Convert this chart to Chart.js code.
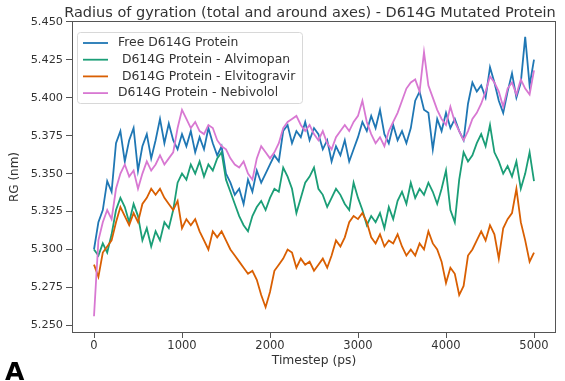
<!DOCTYPE html>
<html>
<head>
<meta charset="utf-8">
<script src="https://cdn.jsdelivr.net/npm/chart.js@4/dist/chart.umd.min.js"></script>
<style>
  html, body { margin: 0; padding: 0; background: #fff; }
  #wrap { width: 565px; height: 381px; position: relative; }
</style>
</head>
<body>
<div id="wrap"><canvas id="rgChart" width="565" height="381"></canvas></div>
<script>
// Timestep (ps), one reading every 50 ps
const timesteps = [];
for (let t = 0; t <= 5000; t += 50) timesteps.push(t);

const seriesLabels = [
    'Free D614G Protein',
    ' D614G Protein - Alvimopan',
    ' D614G Protein - Elvitogravir',
    'D614G Protein - Nebivolol'
];
const seriesColors = ['#1f77b4', '#1b9e77', '#d95f02', '#d878d2'];

// RG (nm) values
const freeProtein = [
    5.300, 5.318, 5.326, 5.345, 5.338, 5.370, 5.378, 5.358, 5.372, 5.380,
    5.352, 5.368, 5.376, 5.360, 5.372, 5.386, 5.370, 5.383, 5.372, 5.366,
    5.376, 5.368, 5.378, 5.364, 5.374, 5.366, 5.380, 5.370, 5.362, 5.368,
    5.350, 5.344, 5.336, 5.340, 5.330, 5.346, 5.338, 5.352, 5.344, 5.350,
    5.356, 5.362, 5.358, 5.378, 5.382, 5.370, 5.378, 5.374, 5.384, 5.372,
    5.380, 5.376, 5.366, 5.372, 5.358, 5.368, 5.362, 5.372, 5.358, 5.366,
    5.374, 5.384, 5.378, 5.388, 5.380, 5.392, 5.376, 5.370, 5.382, 5.372,
    5.378, 5.370, 5.380, 5.398, 5.404, 5.392, 5.390, 5.366, 5.386, 5.378,
    5.390, 5.380, 5.386, 5.378, 5.372, 5.396, 5.410, 5.404, 5.408, 5.400,
    5.420, 5.410, 5.398, 5.390, 5.404, 5.416, 5.400, 5.410, 5.440, 5.408,
    5.425
];
const alvimopan = [
    5.300, 5.296, 5.304, 5.298, 5.310, 5.326, 5.334, 5.328, 5.318, 5.330,
    5.322, 5.306, 5.314, 5.302, 5.312, 5.306, 5.318, 5.314, 5.326, 5.344,
    5.350, 5.346, 5.356, 5.350, 5.358, 5.348, 5.356, 5.352, 5.360, 5.364,
    5.346, 5.338, 5.330, 5.322, 5.316, 5.312, 5.322, 5.328, 5.332, 5.326,
    5.334, 5.340, 5.338, 5.354, 5.348, 5.340, 5.324, 5.334, 5.344, 5.348,
    5.354, 5.340, 5.336, 5.328, 5.334, 5.340, 5.336, 5.330, 5.326, 5.344,
    5.334, 5.326, 5.316, 5.322, 5.318, 5.324, 5.314, 5.328, 5.320, 5.332,
    5.338, 5.330, 5.344, 5.334, 5.340, 5.336, 5.344, 5.338, 5.330, 5.340,
    5.352, 5.326, 5.318, 5.346, 5.364, 5.358, 5.362, 5.370, 5.376, 5.368,
    5.382, 5.364, 5.358, 5.350, 5.355, 5.348, 5.358, 5.340, 5.350, 5.364,
    5.345
];
const elvitogravir = [
    5.290, 5.282, 5.298, 5.302, 5.306, 5.318, 5.328, 5.322, 5.316, 5.324,
    5.318, 5.330, 5.334, 5.340, 5.336, 5.340, 5.334, 5.330, 5.326, 5.332,
    5.314, 5.320, 5.316, 5.320, 5.312, 5.306, 5.300, 5.312, 5.308, 5.312,
    5.306, 5.300, 5.296, 5.292, 5.288, 5.284, 5.286, 5.280, 5.270, 5.262,
    5.272, 5.286, 5.290, 5.294, 5.300, 5.298, 5.288, 5.294, 5.290, 5.292,
    5.286, 5.290, 5.294, 5.288, 5.296, 5.306, 5.302, 5.308, 5.318, 5.322,
    5.320, 5.324, 5.318, 5.308, 5.304, 5.310, 5.302, 5.306, 5.304, 5.310,
    5.302, 5.296, 5.300, 5.296, 5.304, 5.300, 5.312, 5.304, 5.300, 5.292,
    5.278, 5.288, 5.284, 5.270, 5.276, 5.296, 5.300, 5.306, 5.312, 5.306,
    5.316, 5.310, 5.294, 5.314, 5.320, 5.324, 5.340, 5.318, 5.306, 5.292,
    5.298
];
const nebivolol = [
    5.256, 5.306, 5.318, 5.326, 5.320, 5.340, 5.350, 5.356, 5.348, 5.352,
    5.340, 5.350, 5.358, 5.352, 5.356, 5.362, 5.356, 5.360, 5.364, 5.380,
    5.392, 5.386, 5.380, 5.384, 5.378, 5.376, 5.382, 5.380, 5.372, 5.368,
    5.366, 5.360, 5.356, 5.354, 5.358, 5.350, 5.346, 5.360, 5.368, 5.364,
    5.360, 5.364, 5.370, 5.380, 5.384, 5.386, 5.388, 5.382, 5.378, 5.382,
    5.376, 5.372, 5.378, 5.370, 5.366, 5.374, 5.378, 5.382, 5.378, 5.384,
    5.388, 5.398, 5.384, 5.376, 5.370, 5.374, 5.368, 5.378, 5.384, 5.390,
    5.398, 5.406, 5.410, 5.412, 5.404, 5.430, 5.408, 5.400, 5.392, 5.386,
    5.382, 5.394, 5.384, 5.378, 5.372, 5.378, 5.386, 5.390, 5.396, 5.404,
    5.414, 5.410, 5.404, 5.394, 5.406, 5.410, 5.402, 5.412, 5.406, 5.402,
    5.418
];

const xTicks = [0, 1000, 2000, 3000, 4000, 5000];
const yTicks = [5.250, 5.275, 5.300, 5.325, 5.350, 5.375, 5.400, 5.425, 5.450];

const FONT = 'DejaVu Sans';
const TEXT = '#333';

function toPoints(values) {
    return values.map((v, i) => ({ x: timesteps[i], y: v }));
}

// Title, axes frame, legend box and panel letter
const decorations = {
    id: 'decorations',
    afterDraw(chart) {
        const ctx = chart.ctx;
        const a = chart.chartArea;
        ctx.save();

        // axes frame
        ctx.strokeStyle = '#555';
        ctx.lineWidth = 1;
        ctx.strokeRect(a.left + 0.5, a.top + 0.5, a.right - a.left - 1, a.bottom - a.top - 1);

        // title
        ctx.fillStyle = TEXT;
        ctx.font = '14.5px "' + FONT + '"';
        ctx.textAlign = 'center';
        ctx.textBaseline = 'alphabetic';
        ctx.fillText('Radius of gyration (total and around axes) - D614G Mutated Protein', 310, 17);

        // legend
        const lx = 77, ly = 32, lw = 225, lh = 71;
        ctx.fillStyle = 'rgba(255,255,255,0.8)';
        ctx.strokeStyle = '#d8d8d8';
        ctx.beginPath();
        ctx.roundRect(lx + 0.5, ly + 0.5, lw, lh, 3);
        ctx.fill();
        ctx.stroke();
        ctx.font = '12.4px "' + FONT + '"';
        ctx.textAlign = 'left';
        ctx.textBaseline = 'middle';
        seriesLabels.forEach((label, i) => {
            const y = 43 + i * 16.7;
            ctx.strokeStyle = seriesColors[i];
            ctx.lineWidth = 1.8;
            ctx.beginPath();
            ctx.moveTo(83, y);
            ctx.lineTo(108, y);
            ctx.stroke();
            ctx.fillStyle = TEXT;
            ctx.fillText(label, 118, y);
        });

        // panel letter
        ctx.fillStyle = '#000';
        ctx.font = 'bold 25px "' + FONT + '"';
        ctx.textAlign = 'left';
        ctx.textBaseline = 'alphabetic';
        ctx.fillText('A', 5, 380);
        ctx.restore();
    }
};

const ctx = document.getElementById('rgChart');
const datasets = [freeProtein, alvimopan, elvitogravir, nebivolol].map((vals, i) => ({
    label: seriesLabels[i],
    data: toPoints(vals),
    borderColor: seriesColors[i],
    backgroundColor: seriesColors[i],
    borderWidth: 1.8,
    pointRadius: 0,
    tension: 0,
    fill: false,
    order: 3 - i
}));

new Chart(ctx, {
    type: 'line',
    data: { datasets },
    options: {
        responsive: false,
        animation: false,
        layout: { padding: { left: 0, right: 9, top: 21, bottom: 0 } },
        plugins: {
            legend: { display: false },
            title: { display: false },
            tooltip: { enabled: false }
        },
        scales: {
            x: {
                type: 'linear',
                min: -250,
                max: 5250,
                afterBuildTicks: s => { s.ticks = xTicks.map(v => ({ value: v })); },
                afterFit: s => { s.height = 48; },
                border: { display: false },
                grid: { display: true, drawOnChartArea: false, tickLength: 5, color: '#555' },
                ticks: {
                    color: TEXT,
                    padding: 1,
                    maxRotation: 0,
                    font: { family: FONT, size: 11.5 },
                    callback: v => String(v)
                },
                title: {
                    display: true,
                    text: 'Timestep (ps)',
                    color: TEXT,
                    font: { family: FONT, size: 12.3 },
                    padding: { top: 0, bottom: 13 }
                }
            },
            y: {
                type: 'linear',
                min: 5.245,
                max: 5.4505,
                afterBuildTicks: s => { s.ticks = yTicks.map(v => ({ value: v })); },
                afterFit: s => { s.width = 72; },
                border: { display: false },
                grid: { display: true, drawOnChartArea: false, tickLength: 6, color: '#555' },
                ticks: {
                    color: TEXT,
                    padding: 3,
                    font: { family: FONT, size: 11.3 },
                    callback: v => Number(v).toFixed(3)
                },
                title: {
                    display: true,
                    text: 'RG (nm)',
                    color: TEXT,
                    font: { family: FONT, size: 12 },
                    padding: { top: 8, bottom: 0 }
                }
            }
        }
    },
    plugins: [decorations]
});
</script>
</body>
</html>
